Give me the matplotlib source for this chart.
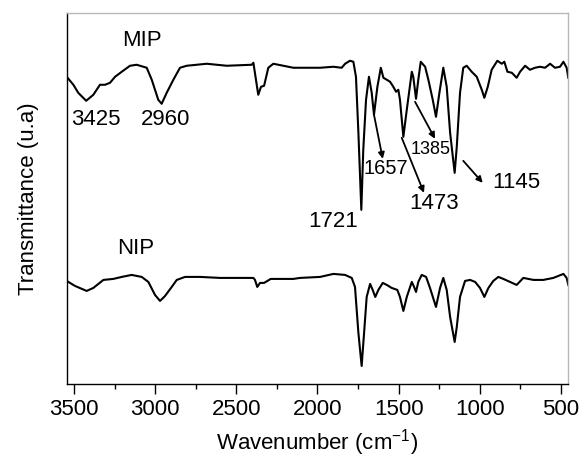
import matplotlib
matplotlib.use("Agg")
import matplotlib.pyplot as plt
from matplotlib.ticker import MultipleLocator

plt.rcParams['font.family'] = ['Liberation Sans', 'DejaVu Sans']
plt.rcParams['mathtext.fontset'] = 'custom'
plt.rcParams['mathtext.rm'] = 'Liberation Sans'
plt.rcParams['mathtext.it'] = 'Liberation Sans'
plt.rcParams['mathtext.default'] = 'regular'

# FTIR spectra (wavenumber in cm-1, transmittance in arbitrary units)
mip_wn = [3545, 3504, 3474, 3425, 3381, 3340, 3309, 3278, 3247, 3206, 3155, 3114,
          3052, 3021, 2981, 2960, 2929, 2888, 2847, 2806, 2682, 2559, 2405, 2395,
          2379, 2365, 2348, 2329, 2303, 2272, 2149, 2108, 1984, 1902, 1851, 1830,
          1800, 1779, 1763, 1748, 1730, 1718, 1701, 1683, 1666, 1652, 1631, 1610,
          1594, 1573, 1553, 1533, 1516, 1502, 1492, 1471, 1450, 1419, 1410, 1393,
          1379, 1364, 1337, 1317, 1290, 1270, 1249, 1225, 1204, 1183, 1155, 1142,
          1122, 1102, 1081, 1050, 1019, 988, 972, 951, 927, 892, 865, 849,
          830, 803, 773, 752, 721, 691, 660, 629, 598, 567, 537, 506,
          485, 465, 455]
mip_t = [307, 299, 291, 283, 289, 299, 299, 301, 307, 312, 318, 319,
         316, 304, 284, 280, 291, 304, 316, 318, 320, 318, 319, 321,
         304, 289, 297, 298, 316, 320, 316, 316, 316, 317, 316, 320,
         323, 322, 307, 251, 174, 234, 284, 307, 291, 269, 297, 316,
         306, 304, 302, 297, 292, 294, 284, 247, 274, 312, 307, 285,
         304, 322, 317, 304, 284, 267, 291, 316, 297, 251, 211, 237,
         291, 316, 318, 312, 307, 294, 286, 297, 314, 323, 320, 322,
         312, 311, 306, 312, 318, 314, 316, 317, 316, 320, 316, 317,
         322, 316, 306]

nip_wn = [3545, 3494, 3422, 3381, 3319, 3258, 3206, 3145, 3083, 3042, 3001, 2970,
          2939, 2898, 2867, 2816, 2724, 2600, 2395, 2385, 2371, 2354, 2329, 2288,
          2149, 2108, 1984, 1902, 1830, 1789, 1769, 1748, 1728, 1713, 1697, 1676,
          1660, 1644, 1625, 1598, 1573, 1543, 1508, 1492, 1471, 1450, 1419, 1405,
          1393, 1379, 1358, 1331, 1307, 1270, 1245, 1225, 1204, 1183, 1155, 1142,
          1122, 1091, 1060, 1029, 999, 972, 947, 917, 886, 855, 814, 773,
          732, 670, 609, 547, 485, 465, 455]
nip_t = [103, 98, 93, 96, 104, 105, 107, 109, 107, 102, 89, 83,
         88, 97, 104, 107, 107, 106, 106, 104, 97, 101, 101, 105,
         105, 106, 107, 110, 109, 106, 97, 51, 18, 51, 87, 100,
         94, 87, 94, 101, 99, 96, 94, 87, 73, 87, 102, 97,
         92, 102, 109, 107, 96, 77, 96, 106, 94, 67, 42, 57,
         87, 103, 104, 102, 96, 87, 96, 103, 107, 105, 102, 99,
         106, 104, 104, 106, 110, 106, 99]

xticks = [3500, 3000, 2500, 2000, 1500, 1000, 500]

fig = plt.figure(figsize=(5.79, 4.59), dpi=100)
ax = fig.add_axes([0.1152, 0.1634, 0.8663, 0.8089])

ax.plot(mip_wn, mip_t, color='black', lw=1.5)
ax.plot(nip_wn, nip_t, color='black', lw=1.5)

ax.set_xlim(3545, 455)
ax.set_ylim(0, 371)
ax.set_xticks(xticks)
ax.xaxis.set_minor_locator(MultipleLocator(250))
ax.set_yticks([])
ax.tick_params(axis='x', which='major', direction='out', length=7, width=1,
               labelsize=16, pad=4, colors='black')
ax.tick_params(axis='x', which='minor', direction='out', length=3.5, width=1)

for side in ['top', 'right']:
    ax.spines[side].set_color('#b8b8b8')
for side in ['left', 'bottom']:
    ax.spines[side].set_color('black')
for sp in ax.spines.values():
    sp.set_linewidth(1)

ax.set_xlabel('Wavenumber (cm$^{-1}$)', fontsize=16, labelpad=5)
ax.set_ylabel('Transmittance (u.a)', fontsize=16, labelpad=20)

# curve names
ax.text(3081, 343, 'MIP', fontsize=16, ha='center', va='center')
ax.text(3118, 135, 'NIP', fontsize=16, ha='center', va='center')

# peak labels
ax.text(3364, 264, '3425', fontsize=16, ha='center', va='center')
ax.text(2933, 264, '2960', fontsize=16, ha='center', va='center')
ax.text(1904, 162, '1721', fontsize=16, ha='center', va='center')
ax.text(1578, 215, '1657', fontsize=14.5, ha='center', va='center')
ax.text(1282, 180, '1473', fontsize=16, ha='center', va='center')
ax.text(1300, 234, '1385', fontsize=13, ha='center', va='center')
ax.text(777, 201, '1145', fontsize=16, ha='center', va='center')

arrow = dict(arrowstyle='-|>', color='black', lw=1.3, mutation_scale=9,
             shrinkA=0, shrinkB=0)
ax.annotate('', xy=(1598, 225), xytext=(1652, 269), arrowprops=arrow)
ax.annotate('', xy=(1344, 191), xytext=(1481, 246), arrowprops=arrow)
ax.annotate('', xy=(1276, 245), xytext=(1399, 282), arrowprops=arrow)
ax.annotate('', xy=(982, 201), xytext=(1102, 223), arrowprops=arrow)

fig.savefig('out.png', dpi=100)
